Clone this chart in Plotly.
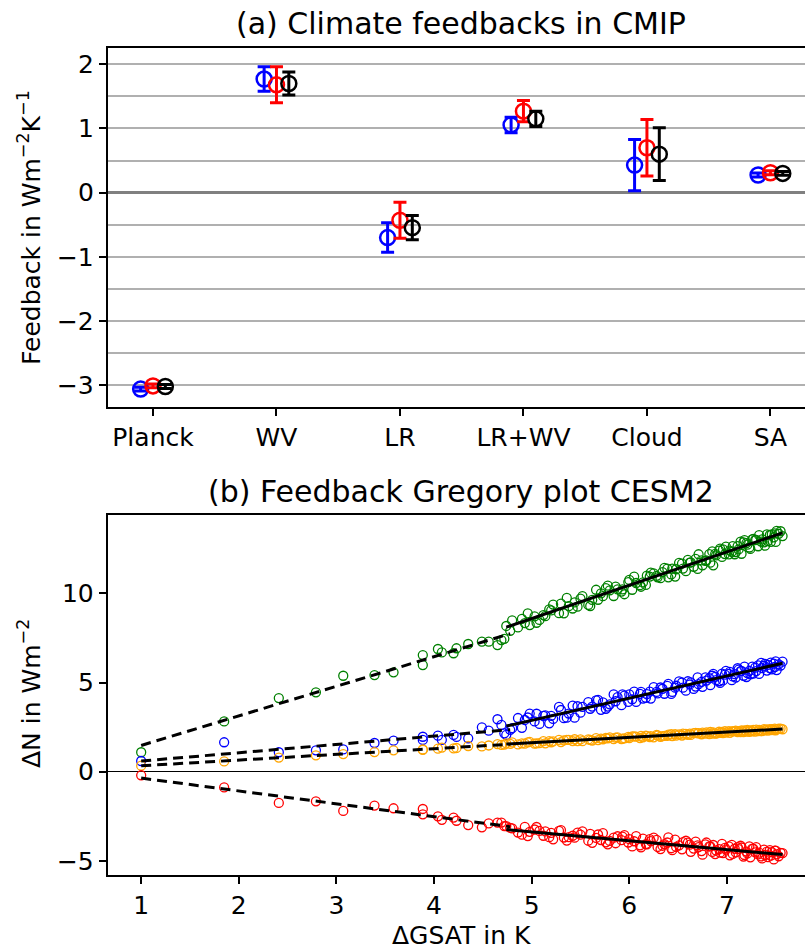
import numpy as np
import plotly.graph_objects as go

# ---------------- Panel (a) data ----------------
categories = ["Planck", "WV", "LR", "LR+WV", "Cloud", "SA"]
blue_mean = [-3.06, 1.77, -0.70, 1.055, 0.43, 0.275]
blue_err = [0.03, 0.19, 0.23, 0.12, 0.40, 0.03]
red_mean = [-3.01, 1.68, -0.43, 1.27, 0.70, 0.31]
red_err = [0.03, 0.28, 0.28, 0.165, 0.44, 0.03]
black_mean = [-3.02, 1.70, -0.545, 1.15, 0.60, 0.30]
black_err = [0.03, 0.18, 0.19, 0.12, 0.41, 0.03]

# ---------------- Panel (b) data ----------------
gsat = [1.0, 1.85, 2.41, 2.79, 3.07, 3.39, 3.585, 3.885, 3.885, 4.04,
        4.08, 4.20, 4.23, 4.35, 4.49, 4.56, 4.65, 4.69, 4.72, 4.78,
        4.74, 4.86, 4.80, 4.93, 4.90, 4.98, 5.03, 4.96, 5.08, 5.12,
        5.05, 5.18, 5.14, 5.22, 5.28, 5.20, 5.33, 5.30, 5.38, 5.42,
        5.36, 5.47, 5.44, 5.52, 5.58, 5.50, 5.62, 5.66, 5.60, 5.71,
        5.68, 5.76, 5.73, 5.80, 5.84, 5.78, 5.88, 5.92, 5.86, 5.95,
        5.99, 5.93, 6.03, 6.00, 6.07, 6.11, 6.05, 6.14, 6.18, 6.12,
        6.21, 6.17, 6.25, 6.29, 6.22, 6.32, 6.28, 6.36, 6.40, 6.34,
        6.43, 6.39, 6.47, 6.44, 6.51, 6.55, 6.48, 6.58, 6.54, 6.62,
        6.60, 6.66, 6.63, 6.70, 6.68, 6.74, 6.71, 6.78, 6.75, 6.82,
        6.79, 6.85, 6.83, 6.88, 6.86, 6.92, 6.89, 6.95, 6.93, 6.98,
        6.96, 7.02, 6.99, 7.05, 7.03, 7.08, 7.06, 7.11, 7.09, 7.14,
        7.12, 7.17, 7.15, 7.20, 7.18, 7.23, 7.21, 7.26, 7.24, 7.29,
        7.27, 7.32, 7.30, 7.35, 7.33, 7.38, 7.36, 7.41, 7.39, 7.44,
        7.42, 7.46, 7.45, 7.49, 7.48, 7.51, 7.50, 7.53, 7.55, 7.57]

n_green = [1.09, 2.82, 4.13, 4.45, 5.38, 5.42, 5.57, 6.54, 5.98, 6.88,
           6.69, 6.64, 6.92, 7.16, 7.29, 7.29, 7.10, 7.38, 7.45, 7.90,
           8.17, 8.09, 8.48, 8.33, 8.57, 8.22, 8.71, 8.88, 8.51, 8.78,
           8.35, 9.10, 8.72, 9.37, 8.89, 9.04, 8.88, 9.42, 9.28, 9.15,
           9.74, 9.25, 9.49, 9.84, 9.35, 9.70, 9.63, 10.20, 9.29, 10.00,
           9.64, 10.29, 9.84, 10.17, 9.85, 10.43, 10.22, 10.10, 10.38, 9.95,
           10.63, 10.22, 10.20, 10.75, 10.58, 10.46, 10.94, 10.61, 10.99, 10.37,
           10.94, 10.47, 11.12, 10.90, 11.16, 10.85, 10.98, 11.43, 10.90, 11.19,
           11.06, 11.38, 10.94, 11.38, 11.71, 11.39, 11.35, 11.24, 11.67, 11.72,
           11.88, 11.49, 11.74, 11.37, 11.93, 11.85, 12.19, 11.82, 11.57, 12.20,
           11.84, 12.35, 11.72, 12.21, 11.57, 12.39, 12.13, 12.04, 12.51, 12.20,
           12.46, 12.18, 12.62, 12.33, 12.39, 12.19, 12.65, 12.65, 12.31, 12.90,
           12.46, 12.86, 12.22, 12.82, 12.98, 12.57, 12.73, 13.03, 12.49, 12.99,
           13.05, 12.64, 13.00, 12.90, 13.26, 12.86, 13.02, 13.31, 12.67, 13.27,
           12.93, 13.31, 12.89, 13.36, 13.14, 13.50, 12.88, 13.34, 13.48, 13.21]

n_blue = [0.60, 1.65, 1.09, 1.20, 1.25, 1.61, 1.74, 1.96, 1.78, 2.02,
          1.79, 2.06, 1.95, 1.87, 2.49, 2.30, 2.94, 2.62, 2.15, 2.35,
          2.06, 3.01, 2.44, 2.90, 2.46, 3.26, 2.82, 3.04, 2.68, 3.13,
          3.25, 2.71, 3.16, 2.96, 3.63, 3.13, 3.00, 3.46, 3.26, 3.71,
          3.03, 3.67, 3.03, 3.63, 3.90, 3.31, 3.65, 4.00, 3.53, 3.47,
          4.03, 3.53, 3.89, 3.78, 4.33, 3.65, 4.18, 3.73, 3.95, 4.26,
          3.91, 4.34, 4.06, 4.33, 3.91, 4.36, 4.49, 4.10, 4.35, 4.47,
          4.49, 4.14, 4.74, 4.39, 4.10, 4.72, 4.47, 4.37, 4.92, 4.65,
          4.36, 4.81, 4.71, 4.47, 5.06, 4.71, 4.82, 4.54, 5.00, 4.89,
          5.07, 4.64, 5.01, 5.29, 4.77, 5.04, 4.91, 5.29, 4.76, 5.24,
          5.11, 5.38, 4.85, 5.32, 5.49, 5.07, 5.13, 5.50, 4.98, 5.44,
          5.12, 5.49, 5.65, 5.13, 5.60, 5.47, 5.34, 5.80, 5.28, 5.64,
          5.72, 5.38, 5.65, 5.31, 5.89, 5.65, 5.53, 5.89, 5.46, 5.83,
          5.50, 5.96, 5.64, 6.10, 5.48, 5.94, 5.81, 5.67, 6.05, 5.81,
          5.99, 5.74, 6.12, 5.87, 6.06, 5.70, 6.19, 6.02, 5.95, 6.17]

n_orange = [0.34, 0.58, 0.79, 0.92, 0.99, 1.10, 1.20, 1.25, 1.22, 1.29,
            1.35, 1.31, 1.33, 1.44, 1.42, 1.47, 1.55, 1.50, 1.52, 1.56,
            1.59, 1.53, 1.64, 1.57, 1.59, 1.67, 1.57, 1.64, 1.60, 1.72,
            1.59, 1.72, 1.59, 1.70, 1.78, 1.65, 1.76, 1.66, 1.79, 1.72,
            1.78, 1.72, 1.82, 1.71, 1.81, 1.81, 1.75, 1.88, 1.78, 1.86,
            1.77, 1.89, 1.82, 1.92, 1.83, 1.87, 1.93, 1.83, 1.91, 1.87,
            1.95, 1.85, 1.98, 1.89, 1.97, 1.89, 1.98, 1.93, 1.99, 2.01,
            1.94, 2.02, 1.93, 2.03, 2.00, 1.96, 2.06, 2.01, 2.08, 1.99,
            2.10, 2.01, 2.10, 1.99, 2.09, 2.14, 2.02, 2.12, 2.03, 2.14,
            2.07, 2.16, 2.06, 2.15, 2.18, 2.10, 2.16, 2.13, 2.19, 2.11,
            2.20, 2.13, 2.23, 2.15, 2.20, 2.24, 2.14, 2.23, 2.18, 2.27,
            2.17, 2.27, 2.19, 2.26, 2.18, 2.28, 2.26, 2.22, 2.30, 2.22,
            2.28, 2.22, 2.31, 2.25, 2.31, 2.24, 2.34, 2.26, 2.31, 2.25,
            2.34, 2.28, 2.36, 2.28, 2.34, 2.38, 2.28, 2.37, 2.32, 2.39,
            2.30, 2.39, 2.33, 2.41, 2.33, 2.39, 2.32, 2.41, 2.42, 2.38]

n_red = [-0.20, -0.88, -1.75, -1.66, -2.20, -1.90, -2.05, -2.09, -2.39, -2.50,
         -2.70, -2.57, -2.75, -2.99, -3.12, -2.90, -2.85, -2.85, -3.05, -3.15,
         -3.05, -3.41, -3.18, -3.09, -3.53, -3.37, -3.24, -3.61, -3.32, -3.59,
         -3.10, -3.67, -3.35, -3.79, -3.32, -3.43, -3.69, -3.28, -3.67, -3.59,
         -3.86, -3.41, -3.70, -3.34, -3.87, -3.53, -3.99, -3.71, -3.48, -3.83,
         -3.52, -3.96, -3.44, -3.88, -3.70, -4.07, -3.62, -3.84, -4.01, -3.55,
         -3.97, -3.64, -4.19, -3.78, -3.61, -4.13, -3.90, -3.75, -4.07, -4.24,
         -3.78, -4.06, -3.70, -4.22, -3.89, -4.34, -3.82, -4.06, -3.68, -4.15,
         -4.29, -3.97, -3.81, -4.40, -4.13, -3.95, -4.22, -3.87, -4.35, -4.09,
         -3.98, -4.31, -4.49, -4.13, -3.92, -4.45, -4.23, -4.07, -4.65, -4.19,
         -3.97, -4.50, -4.19, -4.62, -4.11, -4.34, -4.42, -4.05, -4.54, -4.27,
         -4.56, -4.19, -4.37, -4.10, -4.69, -4.32, -4.61, -4.23, -4.52, -4.15,
         -4.34, -4.76, -4.25, -4.48, -4.67, -4.19, -4.58, -4.31, -4.80, -4.52,
         -4.31, -4.64, -4.23, -4.75, -4.54, -4.37, -4.86, -4.48, -4.67, -4.40,
         -4.79, -4.51, -4.70, -4.42, -4.92, -4.63, -4.43, -4.74, -4.55, -4.56]

n_early = 20  # years used for the dashed (early) regression

FONT = "DejaVu Sans"
fig = go.Figure()

# ---------------- Panel (a) ----------------
xpos = np.arange(len(categories))
for means, errs, col, off in [(blue_mean, blue_err, "#0000ff", -0.1),
                              (red_mean, red_err, "#ff0000", 0.0),
                              (black_mean, black_err, "#000000", 0.1)]:
    fig.add_trace(go.Scatter(
        x=xpos + off, y=means, mode="markers",
        marker=dict(symbol="circle-open", size=15, color=col,
                    line=dict(width=2.5, color=col)),
        error_y=dict(type="data", array=errs, visible=True, color=col,
                     thickness=3, width=6.5),
        xaxis="x", yaxis="y", showlegend=False, cliponaxis=False))

# ---------------- Panel (b) ----------------
gs = np.array(gsat)
for vals, col in [(n_green, "#008000"), (n_blue, "#0000ff"),
                  (n_orange, "#ffa500"), (n_red, "#ff0000")]:
    fig.add_trace(go.Scatter(
        x=gs, y=vals, mode="markers",
        marker=dict(symbol="circle-open", size=9, color=col,
                    line=dict(width=1.3, color=col)),
        xaxis="x2", yaxis="y2", showlegend=False))

for vals in [n_green, n_blue, n_orange, n_red]:
    v = np.array(vals)
    for sl, dash in [(slice(0, n_early), "10px,6px"), (slice(n_early, None), "solid")]:
        xs, ys = gs[sl], v[sl]
        p = np.polyfit(xs, ys, 1)
        xl = np.array([xs.min(), xs.max()])
        fig.add_trace(go.Scatter(
            x=xl, y=np.polyval(p, xl), mode="lines",
            line=dict(color="black", width=3, dash=dash),
            xaxis="x2", yaxis="y2", showlegend=False))

axis_common = dict(showline=True, linecolor="black", linewidth=2,
                   ticks="outside", ticklen=7, tickwidth=1.8, tickcolor="black",
                   tickfont=dict(family=FONT, size=25, color="black"))

fig.update_layout(
    width=805, height=952,
    margin=dict(l=0, r=0, t=0, b=0),
    paper_bgcolor="white", plot_bgcolor="white",
    font=dict(family=FONT, size=25, color="black"),
    xaxis=dict(domain=[0.1339, 1.0], range=[-0.366, 5.28], anchor="y",
               tickvals=list(xpos), ticktext=categories, mirror=True,
               showgrid=False, zeroline=False, **axis_common),
    yaxis=dict(domain=[0.5722, 0.9496], range=[-3.343, 2.254], anchor="x",
               tickvals=[-3, -2, -1, 0, 1, 2], mirror=False,
               showgrid=True, gridcolor="#b0b0b0", gridwidth=2,
               minor=dict(dtick=0.5, tick0=0, showgrid=True, gridcolor="#b0b0b0",
                          gridwidth=2, ticks=""),
               zeroline=True, zerolinecolor="#808080", zerolinewidth=2.5,
               **axis_common),
    xaxis2=dict(domain=[0.1339, 1.0], range=[0.658, 7.80], anchor="y2",
                tickvals=[1, 2, 3, 4, 5, 6, 7], mirror=True,
                showgrid=False, zeroline=False, **axis_common),
    yaxis2=dict(domain=[0.0809, 0.459], range=[-5.79, 14.39], anchor="x2",
                tickvals=[-5, 0, 5, 10], mirror=False, showgrid=False,
                zeroline=True, zerolinecolor="black", zerolinewidth=1.3,
                **axis_common),
)

annots = [
    dict(text="(a) Climate feedbacks in CMIP", x=461, y=23, size=30, angle=0),
    dict(text="(b) Feedback Gregory plot CESM2", x=461, y=491, size=30, angle=0),
    dict(text="ΔGSAT in K", x=461, y=935, size=25, angle=0),
    dict(text="Feedback in Wm<sup>−2</sup>K<sup>−1</sup>", x=29, y=228, size=25, angle=-90),
    dict(text="ΔN in Wm<sup>−2</sup>", x=29, y=694, size=25, angle=-90),
]
for a in annots:
    fig.add_annotation(text=a["text"], x=a["x"] / 805, y=1 - a["y"] / 952,
                       xref="paper", yref="paper", showarrow=False,
                       xanchor="center", yanchor="middle", textangle=a["angle"],
                       font=dict(family=FONT, size=a["size"], color="black"))

fig.write_html("out.html")
